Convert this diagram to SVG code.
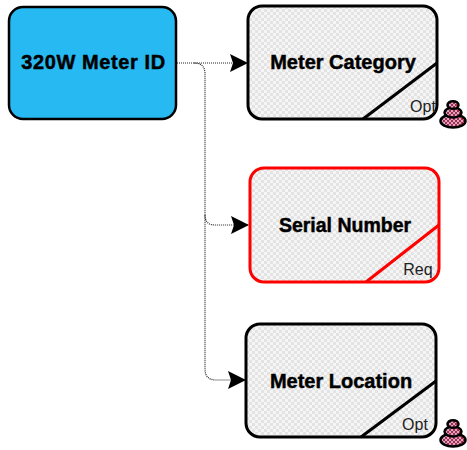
<svg xmlns="http://www.w3.org/2000/svg" width="467" height="450" viewBox="0 0 467 450">
<style>
.t{font-family:"Liberation Sans",Arial,sans-serif;font-weight:bold;font-size:20px;fill:#000;text-anchor:middle;stroke:#000;stroke-width:.45}
.s{font-family:"Liberation Sans",Arial,sans-serif;font-size:16px;fill:#222;text-anchor:middle}
.card{fill:url(#chk);stroke:#000;stroke-width:3}
.dg{stroke:#000;stroke-width:3;fill:none}
.card.red,.dg.red{stroke:#f00}
.c{fill:none;stroke:#222;stroke-width:1.2;stroke-dasharray:1 1}
.st{stroke:#000;stroke-width:2.5;fill:url(#dots)}
</style>
<defs>
<pattern id="chk" width="6" height="6" patternUnits="userSpaceOnUse">
<rect width="6" height="6" fill="#e3e3e3"/>
<rect width="3" height="3" fill="#f5f5f5"/><rect x="3" y="3" width="3" height="3" fill="#f5f5f5"/>
</pattern>
<pattern id="dots" width="4" height="4" patternUnits="userSpaceOnUse">
<rect width="4" height="4" fill="#8fc4f0"/>
<rect width="2" height="2" fill="#f01020"/><rect x="2" y="2" width="2" height="2" fill="#f01020"/>
</pattern>
<marker id="arr" markerUnits="userSpaceOnUse" markerWidth="20" markerHeight="20" refX="18" refY="9" orient="auto">
<path d="M0 0L18 9L0 18L3 9Z" fill="#000"/>
</marker>
<g id="stack">
<ellipse cx="0" cy="15" class="st" rx="12.500" ry="6.500"/>
<ellipse cx="0" cy="6.500" class="st" rx="8.500" ry="5"/>
<ellipse cx="0" cy="-1" class="st" rx="5.500" ry="3.800"/>
</g>
</defs>
<g id="connectors">
<path class="c" d="M177 63H248" marker-end="url(#arr)"/>
<path class="c" d="M194 63Q205 63 205 74V369Q205 380 216 380H246" marker-end="url(#arr)"/>
<path class="c" d="M205 215Q205 225 215 225H249" marker-end="url(#arr)"/>
</g>
<g id="node-meter-id">
<rect x="9" y="7" width="167" height="112" rx="14" fill="#27b9f1" stroke="#000" stroke-width="2.500"/>
<text class="t" x="93.500" y="69" style="letter-spacing:.6px">320W Meter ID</text>
</g>
<g id="node-meter-category">
<rect class="card" x="248" y="6" width="189" height="113" rx="14"/>
<path class="dg" d="M363 119L437 63"/>
<text class="t" x="343" y="69">Meter Category</text>
<text class="s" x="423" y="112">Opt</text>
<use href="#stack" x="453" y="106"/>
</g>
<g id="node-serial-number">
<rect class="card red" x="250" y="168" width="189" height="114" rx="14"/>
<path class="dg red" d="M366 282L439 225"/>
<text class="t" x="345" y="232" style="font-size:19.500px">Serial Number</text>
<text class="s" x="418" y="275">Req</text>
</g>
<g id="node-meter-location">
<rect class="card" x="246" y="324" width="190" height="113" rx="14"/>
<path class="dg" d="M361 437L436 381"/>
<text class="t" x="341" y="388">Meter Location</text>
<text class="s" x="415" y="430">Opt</text>
<use href="#stack" x="453" y="425"/>
</g>
</svg>
